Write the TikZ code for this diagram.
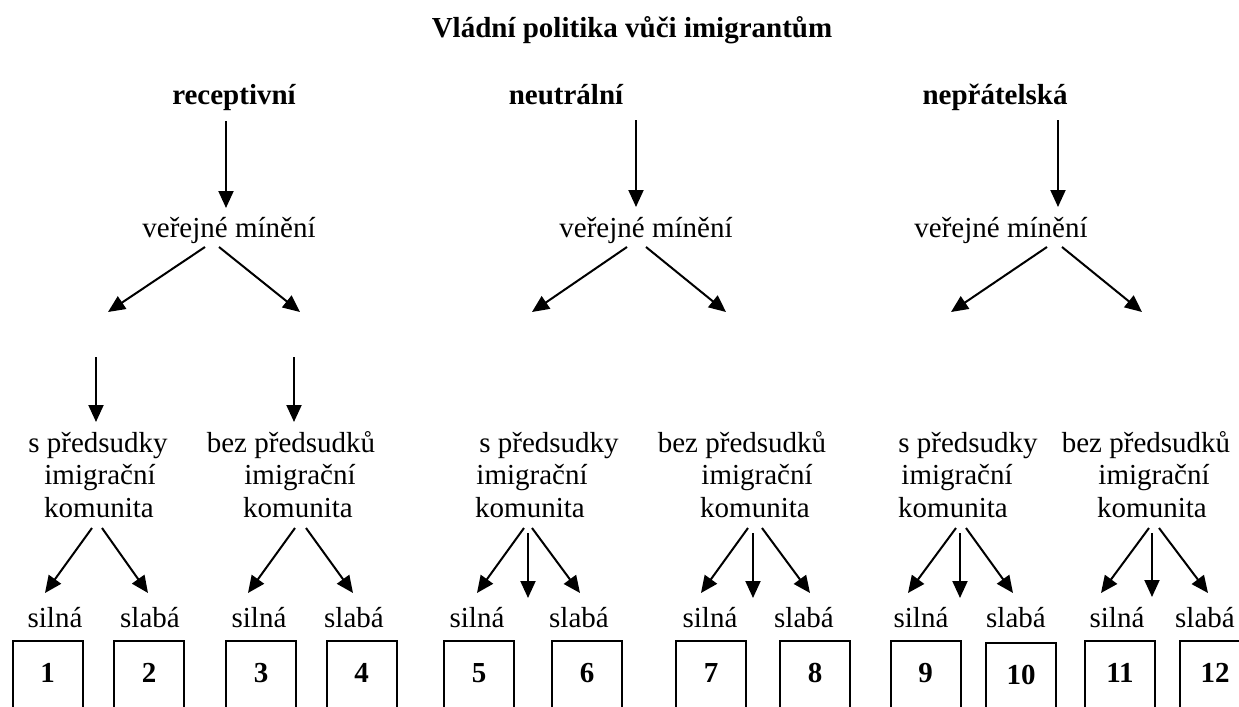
\documentclass[tikz,border=0pt]{standalone}
\usepackage{fontspec}
\setmainfont{Liberation Serif}
\usetikzlibrary{arrows.meta,calc}
\tikzset{
  txt/.style={font=\fontsize{14.5}{17}\selectfont, anchor=base, inner sep=0pt},
  btxt/.style={txt, font=\fontsize{14.5}{17}\selectfont\bfseries},
  arr/.style={line width=1pt, -{Triangle[length=8.5pt,width=7.5pt]}},
  numbox/.style={btxt, draw, line width=1pt, minimum width=35pt, text height=20.5pt, text depth=30pt},
}
\begin{document}
\begin{tikzpicture}[x=0.5pt,y=-0.5pt]
\clip (0,0) rectangle (1239,707);
\fill[white] (0,0) rectangle (1239,707);
% headings
\node[btxt] (title) at (632,37) {Vládní politika vůči imigrantům};
\node[btxt] (p1) at (234,104) {receptivní};
\node[btxt] (p2) at (566,104) {neutrální};
\node[btxt] (p3) at (995,104) {nepřátelská};
\node[txt] (vm1) at (229,237) {veřejné mínění};
\node[txt] (vm2) at (646,237) {veřejné mínění};
\node[txt] (vm3) at (1001,237) {veřejné mínění};
% free ends
\coordinate (d1L) at (108,312);
\coordinate (d1R) at (300,312);
\coordinate (d2L) at (532,312);
\coordinate (d2R) at (726,312);
\coordinate (d3L) at (951,312);
\coordinate (d3R) at (1142,312);
\coordinate (s1) at (96,357);
\coordinate (s2) at (294,357);
% community labels
\node[txt] (c1a) at (98,452) {s předsudky};
\node[txt] (c1b) at (100,484) {imigrační};
\node[txt] (c1c) at (99,517) {komunita};
\node[txt] (c2a) at (291,452) {bez předsudků};
\node[txt] (c2b) at (300,484) {imigrační};
\node[txt] (c2c) at (298,517) {komunita};
\node[txt] (c3a) at (549,452) {s předsudky};
\node[txt] (c3b) at (532,484) {imigrační};
\node[txt] (c3c) at (530,517) {komunita};
\node[txt] (c4a) at (742,452) {bez předsudků};
\node[txt] (c4b) at (757,484) {imigrační};
\node[txt] (c4c) at (755,517) {komunita};
\node[txt] (c5a) at (968,452) {s předsudky};
\node[txt] (c5b) at (957,484) {imigrační};
\node[txt] (c5c) at (953,517) {komunita};
\node[txt] (c6a) at (1146,452) {bez předsudků};
\node[txt] (c6b) at (1154,484) {imigrační};
\node[txt] (c6c) at (1152,517) {komunita};
% silna / slaba
\node[txt] (w1) at (55,627) {silná};
\node[txt] (k1) at (150,627) {slabá};
\node[txt] (w2) at (259,627) {silná};
\node[txt] (k2) at (354,627) {slabá};
\node[txt] (w3) at (477,627) {silná};
\node[txt] (k3) at (579,627) {slabá};
\node[txt] (w4) at (710,627) {silná};
\node[txt] (k4) at (804,627) {slabá};
\node[txt] (w5) at (921,627) {silná};
\node[txt] (k5) at (1016,627) {slabá};
\node[txt] (w6) at (1117,627) {silná};
\node[txt] (k6) at (1205,627) {slabá};
% boxes
\node[numbox] (b1) at (47.5,682) {1};
\node[numbox] (b2) at (149,682) {2};
\node[numbox] (b3) at (261,682) {3};
\node[numbox] (b4) at (361.5,682) {4};
\node[numbox] (b5) at (479,682) {5};
\node[numbox] (b6) at (587,682) {6};
\node[numbox] (b7) at (711,682) {7};
\node[numbox] (b8) at (815,682) {8};
\node[numbox] (b9) at (925.5,682) {9};
\node[numbox] (b10) at (1021,684) {10};
\node[numbox] (b11) at (1120,682) {11};
\node[numbox] (b12) at (1215,682) {12};
% arrows: top
\draw[arr] ($(p1.base)+(-8,17)$) -- ($(vm1.base)+(-3,-29)$);
\draw[arr] ($(p2.base)+(70,16)$) -- ($(vm2.base)+(-10,-30)$);
\draw[arr] ($(p3.base)+(63,16)$) -- ($(vm3.base)+(57,-30)$);
\draw[arr] ($(vm1.base)+(-24,10)$) -- (d1L);
\draw[arr] ($(vm1.base)+(-10,10)$) -- (d1R);
\draw[arr] ($(vm2.base)+(-19,10)$) -- (d2L);
\draw[arr] ($(vm2.base)+(0,10)$) -- (d2R);
\draw[arr] ($(vm3.base)+(46,10)$) -- (d3L);
\draw[arr] ($(vm3.base)+(61,10)$) -- (d3R);
\draw[arr] (s1) -- ($(c1a.base)+(-2,-30)$);
\draw[arr] (s2) -- ($(c2a.base)+(3,-30)$);
% arrows: bottom
\draw[arr] ($(c1c.base)+(-7,11)$) -- ($(w1.base)+(-10,-34)$);
\draw[arr] ($(c1c.base)+(3,11)$) -- ($(k1.base)+(-2,-34)$);
\draw[arr] ($(c2c.base)+(-3,11)$) -- ($(w2.base)+(-11,-34)$);
\draw[arr] ($(c2c.base)+(8,11)$) -- ($(k2.base)+(-1,-34)$);
\draw[arr] ($(c3c.base)+(-6,11)$) -- ($(w3.base)+(0,-34)$);
\draw[arr] ($(c3c.base)+(-2,16)$) -- ($(c3c.base)+(-2,81)$);
\draw[arr] ($(c3c.base)+(2,11)$) -- ($(k3.base)+(1,-34)$);
\draw[arr] ($(c4c.base)+(-7,11)$) -- ($(w4.base)+(-9,-34)$);
\draw[arr] ($(c4c.base)+(-2,16)$) -- ($(c4c.base)+(-2,81)$);
\draw[arr] ($(c4c.base)+(7,11)$) -- ($(k4.base)+(6,-34)$);
\draw[arr] ($(c5c.base)+(3,11)$) -- ($(w5.base)+(-13,-34)$);
\draw[arr] ($(c5c.base)+(7,16)$) -- ($(c5c.base)+(7,81)$);
\draw[arr] ($(c5c.base)+(13,11)$) -- ($(k5.base)+(-3,-34)$);
\draw[arr] ($(c6c.base)+(-3,11)$) -- ($(w6.base)+(-16,-34)$);
\draw[arr] ($(c6c.base)+(0,16)$) -- ($(c6c.base)+(0,80)$);
\draw[arr] ($(c6c.base)+(7,11)$) -- ($(k6.base)+(3,-34)$);
\end{tikzpicture}
\end{document}
